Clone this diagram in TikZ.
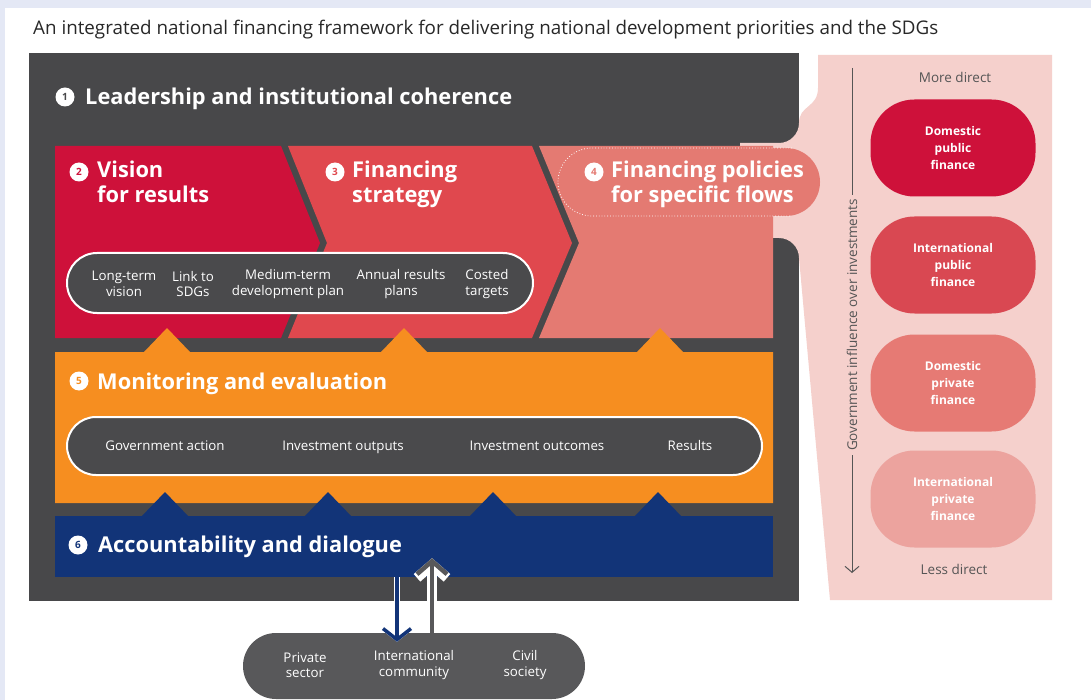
\documentclass[tikz,border=0pt]{standalone}
\usepackage{fontspec}
\setmainfont{Open Sans}
\usetikzlibrary{arrows.meta,shapes.misc,calc,positioning}

\definecolor{lavender}{RGB}{228,232,245}
\definecolor{framegray}{RGB}{72,72,74}
\definecolor{ovalgray}{RGB}{74,74,76}
\definecolor{pillgray}{RGB}{88,88,90}
\definecolor{crimson}{RGB}{206,17,58}
\definecolor{stratred}{RGB}{224,72,78}
\definecolor{flowred}{RGB}{228,122,114}
\definecolor{mango}{RGB}{246,142,32}
\definecolor{navyband}{RGB}{18,52,120}
\definecolor{panelpink}{RGB}{245,208,204}
\definecolor{inkgray}{RGB}{40,40,40}
\definecolor{notegray}{RGB}{85,85,85}
\definecolor{intpub}{RGB}{217,72,82}
\definecolor{dompriv}{RGB}{230,122,116}
\definecolor{intpriv}{RGB}{236,163,158}

\begin{document}
\begin{tikzpicture}[x=1pt,y=-1pt,
	numc/.style={circle, fill=white, minimum size=19pt, inner sep=0pt, font=\bfseries\fontsize{10}{10}\selectfont},
	head/.style={anchor=base west, inner sep=0pt, text=white, font=\bfseries\fontsize{21.8}{26}\selectfont},
	lbl/.style={inner sep=0pt, text=white, align=center, font=\fontsize{13.3}{15.5}\selectfont},
	lone/.style={lbl, anchor=base},
	oval/.style={rounded rectangle, draw=white, line width=2pt, fill=ovalgray, inner sep=0pt},
	flowbox/.style={rectangle, rounded corners=44pt, minimum width=165pt, minimum height=97pt, inner sep=0pt, text=white, align=center, font=\bfseries\fontsize{12}{17}\selectfont},
	note/.style={inner sep=0pt, text=notegray, font=\fontsize{13.5}{15}\selectfont}]
\useasboundingbox (0,0) rectangle (1091,700);
\fill[lavender] (0,0) rectangle (1091,700);
\fill[white] (5,8) rectangle (1091,700);

\node[anchor=base west, inner sep=0pt, text=inkgray, font=\fontsize{18.8}{20}\selectfont] (title) at (33,35) {An integrated national financing framework for delivering national development priorities and the SDGs};

% frame, then the pink panel flaring into column 4
\fill[framegray] (29,53) rectangle (799,601);
\fill[panelpink] (818,55) -- (1052,55) -- (1052,600) -- (830,600) -- (799,258)
	.. controls (799,247) and (790,238) .. (779,238) -- (740,238) -- (740,143) -- (779,143)
	.. controls (790,143) and (799,134) .. (799,123) .. controls (799,105) and (818,108) .. (818,88) -- cycle;

\node[numc, text=framegray] (n1) at (65,97) {1};
\node[head] (lead) at (85,105) {Leadership and institutional coherence};

% columns 2-4
\fill[crimson] (55,146) -- (281,146) -- (320,243) -- (281,338) -- (55,338) -- cycle;
\fill[stratred] (288,146) -- (532,146) -- (572,243) -- (532,338) -- (288,338) -- (327,243) -- cycle;
\fill[flowred] (539,146) -- (773,146) -- (773,338) -- (539,338) -- (579,243) -- cycle;
\node[rounded rectangle, fill=flowred, minimum width=262pt, minimum height=68pt, inner sep=0pt] (pol) at (689,182) {};
\draw[white, dotted, line width=0.8pt] (792,148) -- (592,148) arc[start angle=270, end angle=90, radius=34] -- (792,216);

\node[numc, text=crimson] (n2) at (79,172) {2};
\node[head] (vis) at (97,178) {Vision};
\node[head] (visb) at (97,203) {for results};
\node[numc, text=stratred] (n3) at (335,172) {3};
\node[head] (fin) at (352,178) {Financing};
\node[head] (finb) at (352,203) {strategy};
\node[numc, text=flowred] (n4) at (594,172) {4};
\node[head] (flw) at (611,178) {Financing policies};
\node[head] (flwb) at (611,203) {for specific flows};

\node[oval, minimum width=466pt, minimum height=60pt] (plan) at (300,283) {};
\node[lbl] (ltv) at (124,284) {Long-term\\vision};
\node[lbl] (sdg) at (193,284) {Link to\\SDGs};
\node[lbl] (mtp) at (288,284) {Medium-term\\development plan};
\node[lbl] (arp) at (401,284) {Annual results\\plans};
\node[lbl] (cst) at (487,284) {Costed\\targets};

% monitoring band
\fill[mango] (55,352) -- (144,352) -- (167,328) -- (190,352) -- (381,352) -- (404,328) -- (427,352)
	-- (637,352) -- (660,328) -- (683,352) -- (773,352) -- (773,503) -- (55,503) -- cycle;
\node[numc, text=mango] (n5) at (79,381) {5};
\node[head] (mon) at (97,389) {Monitoring and evaluation};
\node[oval, minimum width=695pt, minimum height=58pt] (chain) at (414.5,446) {};
\node[lone] (gov) at (165,450.5) {Government action};
\node[lone] (out) at (343,450.5) {Investment outputs};
\node[lone] (oc) at (537,450.5) {Investment outcomes};
\node[lone] (res) at (690,450.5) {Results};

% accountability band
\node[fill=navyband, minimum width=718pt, minimum height=61pt, inner sep=0pt] (acc) at (414,546.5) {};
\foreach \t in {165,328,493,658}
	\fill[navyband] (\t-24,517) -- (\t,492) -- (\t+24,517) -- cycle;
\node[numc, text=navyband] (n6) at (78,545) {6};
\node[head] (accb) at (98,552) {Accountability and dialogue};

% stakeholders
\node[rounded rectangle, fill=pillgray, minimum width=342pt, minimum height=66pt, inner sep=0pt] (stake) at (414,666) {};
\node[lbl] (priv) at (305,665) {Private\\sector};
\node[lbl] (intl) at (414,665) {International\\community};
\node[lbl] (civ) at (525,665) {Civil\\society};

\coordinate (dnx) at (397,0);
\coordinate (upx) at (432,0);
\path (stake.north -| dnx) ++(0,9) coordinate (dntip);
\path (acc.south -| upx) ++(0,-19) coordinate (uptip);
\draw[white, line width=6.5pt, -{Straight Barb[length=11pt,width=28pt]}] (acc.south -| dnx) -- (dntip);
\draw[navyband, line width=3.5pt, -{Straight Barb[length=11pt,width=28pt]}] (acc.south -| dnx) -- (dntip);
\draw[white, line width=10pt, -{Straight Barb[length=13pt,width=30pt]}] (stake.north -| upx) -- (uptip);
\draw[pillgray, line width=4.5pt, -{Straight Barb[length=13pt,width=30pt]}] (stake.north -| upx) -- (uptip);

% right panel
\node[note] (more) at (955,77) {More direct};
\node[note] (less) at (954,569) {Less direct};
\coordinate (itop) at (852,68);
\coordinate (ibot) at (852,573);
\draw[notegray, line width=1pt, -{Straight Barb[length=6pt,width=14pt]}] (itop) -- (ibot);
\node[note, rotate=90, fill=panelpink, inner sep=4pt] (infl) at (852,325) {Government influence over investments};

\node[flowbox, fill=crimson] (dpub) at (953,148) {Domestic\\public\\finance};
\node[flowbox, fill=intpub] (ipub) at (953,265) {International\\public\\finance};
\node[flowbox, fill=dompriv] (dpriv) at (953,383) {Domestic\\private\\finance};
\node[flowbox, fill=intpriv] (ipriv) at (953,499) {International\\private\\finance};
\end{tikzpicture}
\end{document}
